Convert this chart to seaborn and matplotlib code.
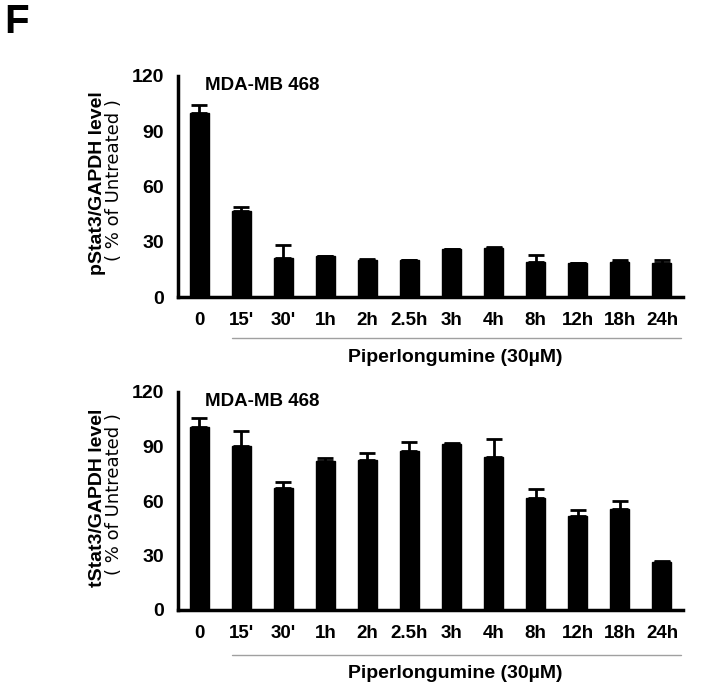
import numpy as np
import pandas as pd
import matplotlib
matplotlib.use("Agg")
import matplotlib.pyplot as plt
import matplotlib.transforms as mtransforms
from matplotlib.lines import Line2D
from matplotlib.ticker import FixedLocator
import seaborn as sns

sns.set_theme(style="white")
plt.rcParams['font.family'] = ['Liberation Sans', 'DejaVu Sans']
plt.rcParams.update({'text.color': 'black', 'axes.labelcolor': 'black',
                     'xtick.color': 'black', 'ytick.color': 'black'})

# Datos
time_points = ["0", "15'", "30'", "1h", "2h", "2.5h", "3h", "4h", "8h", "12h", "18h", "24h"]
pstat3_mean = [100, 46.5, 21, 22.3, 20, 20, 25.8, 26.8, 19.2, 18.4, 19.2, 18.4]
pstat3_err = [4, 2.2, 7, 0.2, 0.4, 0.2, 0.3, 0.2, 3.7, 0.2, 1.0, 1.8]
tstat3_mean = [100.5, 90.5, 67, 82, 82.7, 87.5, 91.5, 84, 61.5, 51.5, 55.7, 26.5]
tstat3_err = [5.2, 8, 3.3, 1.8, 3.7, 5, 0.6, 10, 5, 3.7, 4.4, 0.2]
y_ticks = [0, 30, 60, 90, 120]
cell_line = "MDA-MB 468"
treatment = "Piperlongumine (30\u00b5M)"
ylabels = ["pStat3/GAPDH level", "tStat3/GAPDH level"]
ylabel2 = "( % of Untreated )"

W, H = 701, 689
fig = plt.figure(figsize=(W / 100, H / 100), dpi=100)

# posiciones en pixeles: (izq, arriba, der, abajo)
boxes = [(178, 76, 683, 297), (178, 392, 683, 610)]
panels = [(pstat3_mean, pstat3_err, ylabels[0]), (tstat3_mean, tstat3_err, ylabels[1])]

for (l, t, r, b), (means, errs, ylab) in zip(boxes, panels):
    ax = fig.add_axes([l / W, 1 - b / H, (r - l) / W, (b - t) / H])
    df = pd.DataFrame({'time': time_points, 'value': means})
    sns.barplot(data=df, x='time', y='value', color='black', width=0.45,
                errorbar=None, ax=ax, saturation=1, edgecolor='black')
    x = np.arange(len(time_points))
    ax.errorbar(x, means, yerr=[np.zeros(len(errs)), errs], fmt='none',
                ecolor='black', elinewidth=2, capsize=6, capthick=2)
    ax.set_xlim(-0.5, len(time_points) - 0.5)
    ax.set_ylim(0, 120)
    ax.set_yticks(y_ticks)
    ax.set_yticklabels([str(v) for v in y_ticks], fontsize=14, fontweight='bold')
    ax.set_xticks(x)
    ax.set_xticklabels(time_points, fontsize=13.5, fontweight='bold')
    ax.tick_params(axis='x', which='major', length=0, pad=11)
    ax.xaxis.set_minor_locator(FixedLocator(np.arange(-0.5, len(time_points), 1.0)))
    ax.tick_params(axis='x', which='minor', length=5, width=2, color='black', direction='out')
    ax.tick_params(axis='y', length=6, width=2, color='black', direction='out', pad=4)
    ax.set_xlabel('')
    ax.set_ylabel('')
    for s in ['top', 'right']:
        ax.spines[s].set_visible(False)
    for s in ['left', 'bottom']:
        ax.spines[s].set_color('black')
        ax.spines[s].set_linewidth(2.5)

    ax.text(0.053, 115, cell_line, transform=mtransforms.blended_transform_factory(ax.transAxes, ax.transData),
            fontsize=13.5, fontweight='bold', va='center', ha='left')

    # etiqueta del eje y en dos lineas
    yc = 1 - ((t + b) / 2 - 3) / H
    fig.text(97 / W, yc, ylab, rotation=90, fontsize=14, fontweight='bold', ha='center', va='center')
    fig.text(114 / W, yc + 0.005, ylabel2, rotation=90, fontsize=13, ha='center', va='center',
             family=['DejaVu Sans'])

    # linea gris del tratamiento
    trans = mtransforms.blended_transform_factory(ax.transData, ax.transAxes)
    ly = (b - (338 if t < 300 else 655)) / (b - t)
    ax.add_line(Line2D([0.78, 11.45], [ly, ly], transform=trans, color='#a0a0a0',
                       lw=1, clip_on=False))
    ty = (b - (357 if t < 300 else 673)) / (b - t)
    ax.text(6.1, ty, treatment, transform=trans, fontsize=14, fontweight='bold',
            ha='center', va='center')

fig.text(0.006, 0.995, "F", fontsize=29, fontweight='bold', ha='left', va='top')

fig.savefig("out.png", dpi=100)
